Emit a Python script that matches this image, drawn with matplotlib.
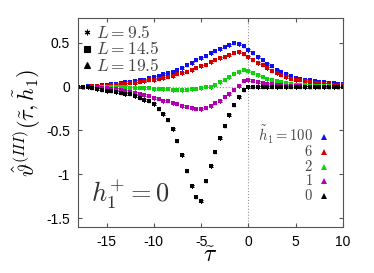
import numpy as np
from matplotlib import pyplot as plt

plt.rcParams['font.family'] = 'Liberation Sans'
plt.rcParams['mathtext.fontset'] = 'cm'
plt.rcParams['axes.unicode_minus'] = False

# scaling variable tau~ (step 0.5)
tau = [-18.0, -17.5, -17.0, -16.5, -16.0, -15.5, -15.0, -14.5, -14.0, -13.5,
       -13.0, -12.5, -12.0, -11.5, -11.0, -10.5, -10.0, -9.5, -9.0, -8.5,
       -8.0, -7.5, -7.0, -6.5, -6.0, -5.5, -5.0, -4.5, -4.0, -3.5,
       -3.0, -2.5, -2.0, -1.5, -1.0, -0.5, 0.0, 0.5, 1.0, 1.5,
       2.0, 2.5, 3.0, 3.5, 4.0, 4.5, 5.0, 5.5, 6.0, 6.5,
       7.0, 7.5, 8.0, 8.5, 9.0, 9.5, 10.0]

h_100 = [0.00, 0.00, 0.01, 0.01, 0.01, 0.02, 0.02, 0.03, 0.03, 0.04,
         0.05, 0.05, 0.06, 0.07, 0.08, 0.10, 0.11, 0.12, 0.14, 0.15,
         0.17, 0.19, 0.21, 0.24, 0.27, 0.30, 0.33, 0.35, 0.38, 0.41,
         0.43, 0.45, 0.47, 0.49, 0.48, 0.46, 0.42, 0.38, 0.34, 0.30,
         0.26, 0.23, 0.19, 0.17, 0.14, 0.12, 0.10, 0.09, 0.08, 0.07,
         0.06, 0.05, 0.05, 0.04, 0.04, 0.03, 0.03]
h_6 = [0.00, 0.00, 0.00, 0.01, 0.01, 0.01, 0.01, 0.02, 0.02, 0.03,
       0.03, 0.04, 0.04, 0.05, 0.06, 0.07, 0.08, 0.09, 0.10, 0.11,
       0.12, 0.14, 0.15, 0.17, 0.19, 0.21, 0.23, 0.25, 0.28, 0.30,
       0.32, 0.34, 0.36, 0.38, 0.39, 0.37, 0.34, 0.30, 0.27, 0.24,
       0.21, 0.18, 0.15, 0.13, 0.11, 0.09, 0.08, 0.07, 0.06, 0.05,
       0.04, 0.04, 0.03, 0.03, 0.02, 0.02, 0.02]
h_2 = [0.00, 0.00, 0.00, 0.00, 0.00, 0.00, -0.01, -0.01, -0.01, -0.01,
       -0.01, -0.02, -0.02, -0.02, -0.02, -0.02, -0.03, -0.03, -0.03, -0.03,
       -0.04, -0.04, -0.04, -0.04, -0.03, -0.03, -0.02, -0.01, 0.00, 0.02,
       0.05, 0.08, 0.11, 0.14, 0.17, 0.19, 0.18, 0.15, 0.13, 0.11,
       0.09, 0.07, 0.06, 0.05, 0.04, 0.03, 0.02, 0.02, 0.02, 0.01,
       0.01, 0.01, 0.01, 0.01, 0.00, 0.00, 0.00]
h_1 = [0.00, 0.00, -0.01, -0.01, -0.01, -0.02, -0.02, -0.03, -0.03, -0.04,
       -0.05, -0.06, -0.07, -0.08, -0.10, -0.11, -0.13, -0.14, -0.16, -0.17,
       -0.19, -0.20, -0.22, -0.23, -0.24, -0.25, -0.25, -0.24, -0.22, -0.19,
       -0.16, -0.12, -0.08, -0.04, 0.01, 0.06, 0.07, 0.06, 0.05, 0.04,
       0.03, 0.03, 0.02, 0.02, 0.01, 0.01, 0.01, 0.01, 0.00, 0.00,
       0.00, 0.00, 0.00, 0.00, 0.00, 0.00, 0.00]
h_0 = [0.00, -0.01, -0.01, -0.02, -0.03, -0.04, -0.05, -0.05, -0.06, -0.07,
       -0.08, -0.09, -0.11, -0.13, -0.15, -0.17, -0.20, -0.25, -0.31, -0.38,
       -0.48, -0.62, -0.78, -0.96, -1.13, -1.26, -1.30, -1.07, -0.90, -0.74,
       -0.59, -0.45, -0.32, -0.21, -0.12, -0.04, -0.01, -0.01, 0.00, 0.00,
       0.00, 0.00, 0.00, 0.00, 0.00, 0.00, 0.00, 0.00, 0.00, 0.00,
       0.00, 0.00, 0.00, 0.00, 0.00, 0.00, 0.00]

h1_labels = ['100', '6', '2', '1', '0']
series = [h_100, h_6, h_2, h_1, h_0]
colors = ['#1010ee', '#d00000', '#10d010', '#b000b0', 'black']

L_labels = ['9.5', '14.5', '19.5']
L_markers = [(6, 2, 0), 's', '^']


def main():
    fig = plt.figure(figsize=(3.74, 2.73), dpi=100)
    ax = fig.add_axes([0.209, 0.168, 0.708, 0.766])

    ax.axhline(0, color='#999999', lw=0.8, ls=':', zorder=0)
    ax.axvline(0, color='#999999', lw=0.8, ls=':', zorder=0)

    t = np.array(tau)
    for ys, c in zip(series, colors):
        y = np.array(ys)
        ax.plot(t, y, 's', color=c, ms=2.4, mew=0)
        ax.plot(t[1::2], y[1::2], '^', color=c, ms=2.4, mew=0)
        ax.plot(t[::2], y[::2], marker=(6, 2, 0), ls='none', color=c,
                ms=3.0, mew=0.6)

    ax.set_xlim(-18, 10)
    ax.set_ylim(-1.6, 0.78)
    ax.set_xticks([-15, -10, -5, 0, 5, 10])
    ax.set_yticks([-1.5, -1, -0.5, 0, 0.5])
    ax.set_yticklabels(['-1.5', '-1', '-0.5', '0', '0.5'])
    ax.tick_params(direction='in', top=True, right=True, labelsize=10,
                   length=3, color='#555555', pad=6)
    for s in ax.spines.values():
        s.set_color('#555555')

    ax.set_xlabel(r'$\tilde{\tau}$', fontsize=17, labelpad=-3)
    ax.set_ylabel(r'$\hat{\vartheta}^{(III)}(\tilde{\tau},\tilde{h}_1)$',
                  fontsize=16, labelpad=2)

    # legend for system sizes (top left)
    gray = '#444444'
    for i, (lab, m) in enumerate(zip(L_labels, L_markers)):
        yy = 0.933 - i * 0.08
        ax.plot([0.034], [yy], marker=m, color='black', ms=4, mew=0.8,
                ls='none', transform=ax.transAxes)
        ax.text(0.068, yy, r'$L = ' + lab + '$', transform=ax.transAxes,
                fontsize=12.5, color=gray, va='center', ha='left')

    # legend for h1 values (bottom right)
    for i, (lab, c) in enumerate(zip(h1_labels, colors)):
        yb = 0.41 - i * 0.07
        txt = (r'$\tilde{h}_1 = 100$' if i == 0 else r'$' + lab + '$')
        ax.text(0.887, yb, txt, transform=ax.transAxes, fontsize=10.5,
                color=gray, va='baseline', ha='right')
        ax.plot([0.928], [yb + 0.019], marker='^', color=c, ms=4, mew=0,
                ls='none', transform=ax.transAxes)

    ax.text(0.05, 0.155, r'$h_1^{+} = 0$', transform=ax.transAxes,
            fontsize=19, color='#333333', va='center', ha='left')

    plt.savefig('out.png', dpi=100)


if __name__ == '__main__':
    main()
